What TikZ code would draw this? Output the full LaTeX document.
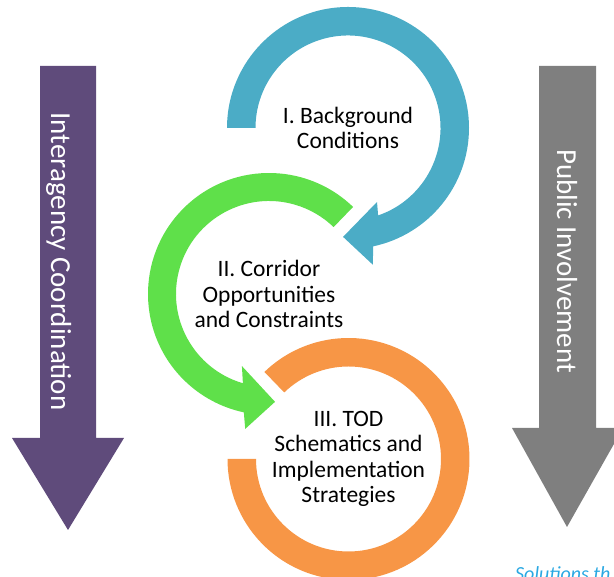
\documentclass[tikz,border=0pt]{standalone}
\usepackage{fontspec}
\setmainfont{Carlito}

\definecolor{cycblue}{HTML}{4BACC6}
\definecolor{cycgreen}{HTML}{5FE04A}
\definecolor{cycorange}{HTML}{F79646}
\definecolor{agencypurple}{HTML}{5F4B7B}
\definecolor{publicgray}{HTML}{7F7F7F}
\definecolor{noteblue}{HTML}{2AA8E2}

\begin{document}
\begin{tikzpicture}[x=1pt, y=1pt]
\tikzset{ phase/.style={align=center, font=\fontsize{23.5}{25.5}\selectfont},
          side/.style={rotate=-90, anchor=base, text=white, font=\fontsize{29}{32}\selectfont}, }

\useasboundingbox (0,0) rectangle (614,577);
\clip (0,0) rectangle (614,577);

%\draw [lightgray, dashed](0,0) grid[step=50] (614,577);

% side arrows
\fill [agencypurple] (40,511) -- (96,511) -- (96,139) -- (124,139) -- (68,47) -- (12,139) -- (40,139) -- cycle;
\fill [publicgray] (539,511) -- (596,511) -- (596,149) -- (623,149) -- (567,50) -- (512,149) -- (539,149) -- cycle;

\node [side] (agency) at (51,315.5) {Interagency Coordination};
\node [side] (public) at (557,316) {Public Involvement};

% III
\begin{scope}[shift={(348.5,118)}]
\fill [cycorange] (134:121) arc[start angle=134, end angle=-180, radius=121]
      -- (180:92.5) arc[start angle=-180, end angle=134, radius=92.5] -- cycle;
\node [phase] (tod) at (0,0) {III. TOD\\Schematics and\\Implementation\\Strategies};
\end{scope}

% II
\begin{scope}[shift={(269,283)}]
\fill [cycgreen] (46:121) arc[start angle=46, end angle=258, radius=121]
      -- (260:137) -- (273.2:108) -- (249.4:77) -- (253.7:93)
      arc[start angle=253.7, end angle=46, radius=93] -- cycle;
\node [phase] (corridor) at (0,0) {II. Corridor\\Opportunities\\and Constraints};
\end{scope}

% I
\begin{scope}[shift={(348,449)}]
\fill [cycblue] (180:121) arc[start angle=180, end angle=-78, radius=121]
      -- (-79.7:139) -- (-92.6:109) -- (-68.6:79.5) -- (-71:92.5)
      arc[start angle=-71, end angle=180, radius=92.5] -- cycle;
\node [phase] (background) at (0,0) {I. Background\\Conditions};
\end{scope}

\node [anchor=base west, inner sep=0pt, text=noteblue, font=\fontsize{20}{22}\selectfont\itshape] (note) at (515,-4) {Solutions th};

\end{tikzpicture}
\end{document}
